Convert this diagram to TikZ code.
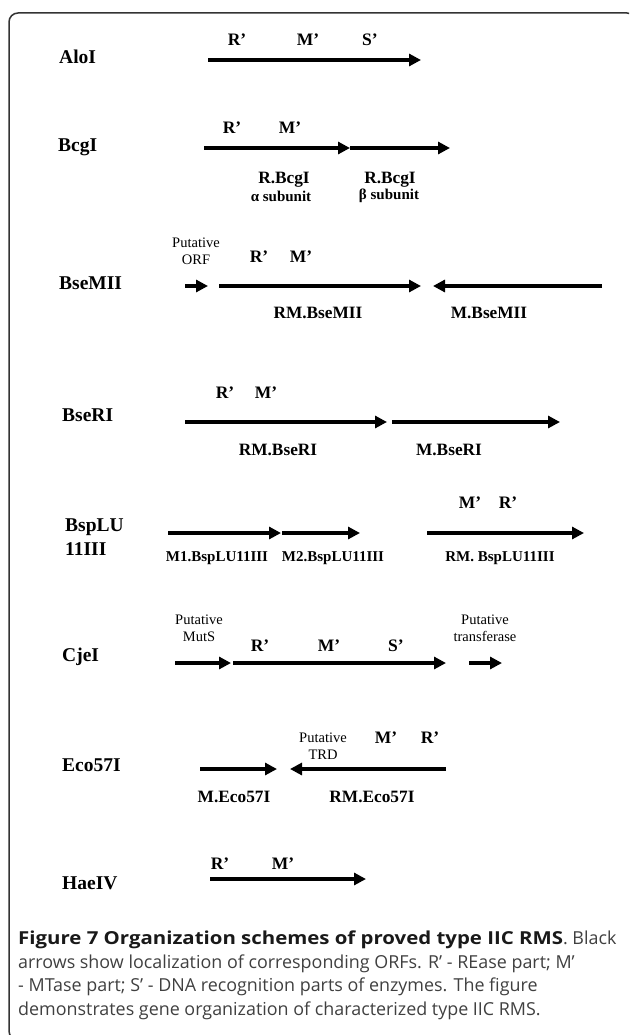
\documentclass[tikz,border=0pt]{standalone}
\usepackage{fontspec}
\setmainfont{Liberation Serif}
\newfontfamily\capfont{Open Sans}
\newfontfamily\capbold{Open Sans}[FakeStretch=1.14]
\usetikzlibrary{arrows.meta}
\tikzstyle{enzyme} = [anchor=west, inner sep=0pt, font=\fontsize{19.5}{24}\selectfont\bfseries]
\tikzstyle{part} = [inner sep=0pt, font=\fontsize{17.5}{19}\selectfont\bfseries]
\tikzstyle{gname} = [inner sep=0pt, font=\fontsize{17.3}{19}\selectfont\bfseries]
\tikzstyle{gsmall} = [inner sep=0pt, font=\fontsize{15}{17}\selectfont\bfseries]
\tikzstyle{note} = [inner sep=0pt, align=center, font=\fontsize{14.5}{17}\selectfont]
\tikzstyle{gene} = [line width=4pt, -{Triangle[length=12pt,width=12pt]}]
\tikzstyle{capline} = [anchor=west, inner sep=0pt, text=black!75, font=\capfont\fontsize{17.9}{20}\selectfont]

\begin{document}
\begin{tikzpicture}[x=1pt, y=-1pt]
    \useasboundingbox (0,0) rectangle (629,1035);
    \clip (0,0) rectangle (629,1035);

    % Frame
    \draw[line width=1.5pt, black!80, rounded corners=9pt] (9,13) rectangle (636,1040);

    % AloI
    \node (aloi) [enzyme] at (59,57) {AloI};
    \draw [gene] (208,60) -- (421,60);
    \node (aloiR) [part] at (237,40) {R’};
    \node (aloiM) [part] at (308,40) {M’};
    \node (aloiS) [part] at (370,40) {S’};

    % BcgI
    \node (bcgi) [enzyme] at (58,147) {BcgI};
    \draw [gene] (204,148) -- (350,148);
    \draw [gene] (350,148) -- (450,148);
    \node (bcgiR) [part] at (232,128) {R’};
    \node (bcgiM) [part] at (290,128) {M’};
    \node (bcgA) [gname] at (284,180) {R.BcgI};
    \node (bcgAs) [gsmall] at (281,196) {α subunit};
    \node (bcgB) [gname] at (390,180) {R.BcgI};
    \node (bcgBs) [gsmall] at (389,196) {β subunit};

    % BseMII
    \node (bsemii) [enzyme] at (59,283) {BseMII};
    \draw [gene] (185,286) -- (208,286);
    \node (bsemiiOrf) [note] at (196,251) {Putative\\ORF};
    \node (bsemiiR) [part] at (259,257) {R’};
    \node (bsemiiM) [part] at (301,257) {M’};
    \draw [gene] (219,286) -- (421,286);
    \draw [gene] (602,286) -- (433,286);
    \node (rmbsemii) [gname] at (318,313) {RM.BseMII};
    \node (mbsemii) [gname] at (489,313) {M.BseMII};

    % BseRI
    \node (bseri) [enzyme] at (62,415) {BseRI};
    \draw [gene] (185,422) -- (387,422);
    \draw [gene] (392,422) -- (560,422);
    \node (bseriR) [part] at (225,393) {R’};
    \node (bseriM) [part] at (266,393) {M’};
    \node (rmbseri) [gname] at (278,450) {RM.BseRI};
    \node (mbseri) [gname] at (449,450) {M.BseRI};

    % BspLU11III
    \node (bsplu) [enzyme, align=left] at (65,537) {BspLU\\11III};
    \draw [gene] (168,533) -- (281,533);
    \draw [gene] (282,533) -- (360,533);
    \draw [gene] (427,533) -- (584,533);
    \node (bspluM) [part] at (470,503) {M’};
    \node (bspluR) [part] at (508,503) {R’};
    \node (m1bsplu) [gsmall] at (217,558) {M1.BspLU11III};
    \node (m2bsplu) [gsmall] at (333,558) {M2.BspLU11III};
    \node (rmbsplu) [gsmall] at (500,558) {RM. BspLU11III};

    % CjeI
    \node (cjei) [enzyme] at (62,657) {CjeI};
    \draw [gene] (175,663) -- (231,663);
    \draw [gene] (233,663) -- (446,663);
    \draw [gene] (469,663) -- (502,663);
    \node (cjeiMuts) [note] at (199,628) {Putative\\MutS};
    \node (cjeiTr) [note] at (485,628) {Putative\\transferase};
    \node (cjeiR) [part] at (260,646) {R’};
    \node (cjeiM) [part] at (329,646) {M’};
    \node (cjeiS) [part] at (396,646) {S’};

    % Eco57I
    \node (eco) [enzyme] at (62,765) {Eco57I};
    \draw [gene] (200,769) -- (277,769);
    \draw [gene] (446,769) -- (290,769);
    \node (ecoTrd) [note] at (323,746) {Putative\\TRD};
    \node (ecoM) [part] at (386,738) {M’};
    \node (ecoR) [part] at (430,738) {R’};
    \node (meco) [gname] at (234,797) {M.Eco57I};
    \node (rmeco) [gname] at (372,797) {RM.Eco57I};

    % HaeIV
    \node (haeiv) [enzyme] at (62,883) {HaeIV};
    \draw [gene] (210,879) -- (366,879);
    \node (haeivR) [part] at (220,864) {R’};
    \node (haeivM) [part] at (283,864) {M’};

    % Caption
    \node (cap1) [capline] at (18,940) {\textcolor{black!90}{\capbold\bfseries Figure 7 Organization schemes of proved type IIC RMS}. Black};
    \node (cap2) [capline] at (18,963.5) {arrows show localization of corresponding ORFs. R’ - REase part; M’};
    \node (cap3) [capline] at (18,987) {- MTase part; S’ - DNA recognition parts of enzymes. The figure};
    \node (cap4) [capline] at (18,1010.5) {demonstrates gene organization of characterized type IIC RMS.};

\end{tikzpicture}
\end{document}
